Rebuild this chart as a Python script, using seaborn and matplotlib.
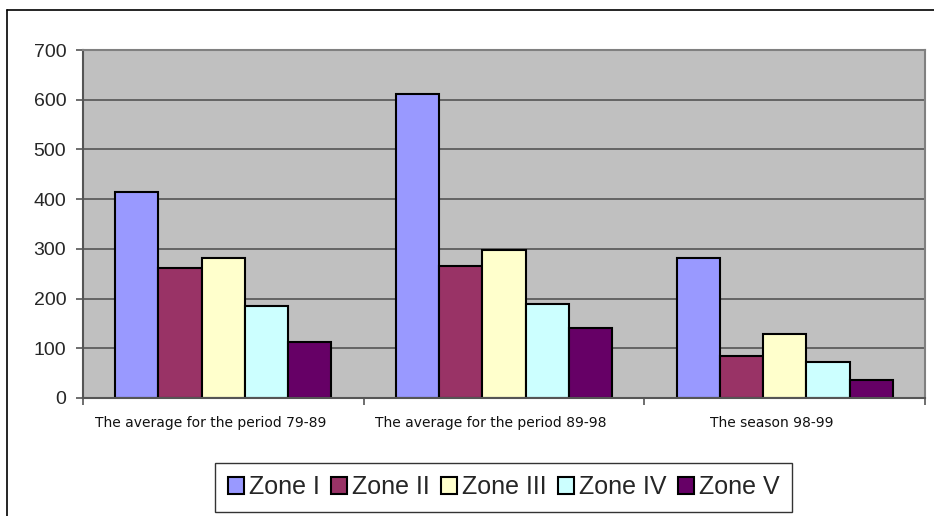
import matplotlib
matplotlib.use("Agg")
import matplotlib.pyplot as plt
from matplotlib.lines import Line2D
from matplotlib.transforms import ScaledTranslation
import seaborn as sns
import pandas as pd

categories = ["The average for the period 79-89", "The average for the period 89-98", "The season 98-99"]
zones = ["Zone I", "Zone II", "Zone III", "Zone IV", "Zone V"]
zone1 = [414, 611, 281]
zone2 = [261, 265, 84]
zone3 = [281, 297, 129]
zone4 = [185, 189, 72]
zone5 = [112, 140, 36]
colors = ["#9999FF", "#993366", "#FFFFCC", "#CCFFFF", "#660066"]

rows = []
for z, vals in zip(zones, [zone1, zone2, zone3, zone4, zone5]):
    for c, v in zip(categories, vals):
        rows.append({"category": c, "zone": z, "value": v})
df = pd.DataFrame(rows)

sns.set_theme(style="white")
plt.rcParams['font.family'] = ['Liberation Sans', 'DejaVu Sans']

fig = plt.figure(figsize=(9.34, 5.16), dpi=100)
ax = fig.add_axes([83/934, 1-398/516, (925-83)/934, (398-50)/516])
ax.set_facecolor("#C0C0C0")

sns.barplot(data=df, x="category", y="value", hue="zone", order=categories,
            hue_order=zones, palette=colors, width=0.77, gap=0,
            edgecolor="black", linewidth=1.5, saturation=1, ax=ax, legend=True)

ax.set_ylim(0, 700)
ax.set_xlim(-0.5, 2.5)
ax.set_yticks(range(0, 701, 100))
ax.yaxis.grid(True, color="#555555", linewidth=1.2)
ax.set_axisbelow(True)
ax.set_xlabel("")
ax.set_ylabel("")
for s in ["top", "right"]:
    ax.spines[s].set_color("#808080")
    ax.spines[s].set_linewidth(1.5)
for s in ["left", "bottom"]:
    ax.spines[s].set_color("#555555")
    ax.spines[s].set_linewidth(1.5)

ax.tick_params(axis="y", which="major", length=5, width=1.2, color="#555555",
               labelsize=14, pad=7, left=True)
ax.set_xticks([0, 1, 2])
ax.set_xticklabels(categories, fontfamily="DejaVu Sans", fontsize=10, color="#111111")
ax.tick_params(axis="x", which="major", length=0, pad=13)
shift = ScaledTranslation(-13/100, 0, fig.dpi_scale_trans)
for lab in ax.get_xticklabels():
    lab.set_transform(lab.get_transform() + shift)
ax.set_xticks([-0.5, 0.5, 1.5, 2.5], minor=True)
ax.tick_params(axis="x", which="minor", length=5, width=1.2, color="#555555", bottom=True)

handles, labels = ax.get_legend_handles_labels()
ax.get_legend().remove()
leg = fig.legend(handles, labels, loc="center", bbox_to_anchor=(503.5/934, 1-487.5/516),
                 ncol=5, fontsize=18, frameon=True, fancybox=False,
                 handlelength=0.64, handleheight=0.64, handletextpad=0.2,
                 columnspacing=0.45, borderpad=0.5, borderaxespad=0)
leg.get_frame().set_edgecolor("black")
leg.get_frame().set_linewidth(1.0)

fig.add_artist(Line2D([7/934, 7/934], [0, 1-10/516], transform=fig.transFigure, color="black", linewidth=1.2))
fig.add_artist(Line2D([7/934, 1], [1-10/516, 1-10/516], transform=fig.transFigure, color="black", linewidth=1.2))

fig.savefig("out.png", dpi=100)
